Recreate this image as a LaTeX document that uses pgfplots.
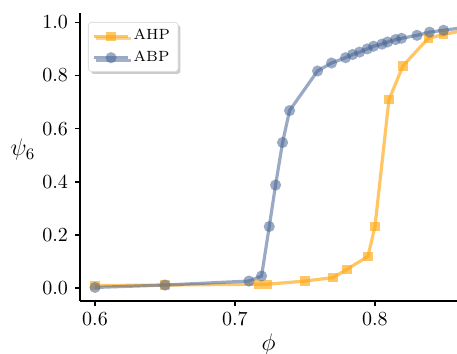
\documentclass[border=0pt]{standalone}
\usepackage{pgfplots}
\pgfplotsset{compat=1.18}
\usetikzlibrary{shadows}
\definecolor{cora}{RGB}{255,168,20}
\definecolor{cblu}{RGB}{72,100,148}
\begin{document}
\begin{tikzpicture}
\path[use as bounding box] (-40pt,-26.5pt) rectangle (188.5pt,150.5pt);
\begin{axis}[
  at={(0pt,0pt)}, anchor=south west,
  scale only axis, width=188.5pt, height=144pt,
  xmin=0.5893, xmax=0.8586, ymin=-0.048, ymax=1.035,
  axis x line*=bottom, axis y line*=left,
  axis line style={line width=1.2pt, -},
  xtick={0.6,0.7,0.8}, ytick={0,0.2,0.4,0.6,0.8,1.0},
  xticklabels={$0.6$,$0.7$,$0.8$},
  yticklabels={$0.0$,$0.2$,$0.4$,$0.6$,$0.8$,$1.0$},
  tick align=outside, major tick length=2.5pt,
  tick style={line width=0.8pt, black},
  xlabel={\large $\phi$}, ylabel={\large $\psi_6$},
  xlabel style={at={(rel axis cs:0.5,0)}, anchor=center, yshift=-22pt},
  ylabel style={rotate=-90, at={(rel axis cs:0,0)}, anchor=center, xshift=-28.5pt, yshift=75.5pt},
  clip=true,
  legend style={at={(0,1)}, anchor=north west, xshift=4pt, yshift=-4.5pt,
    font=\fontsize{7.4}{8.8}\selectfont, draw=black!12, fill=white,
    rounded corners=1.5pt, drop shadow={shadow xshift=1.2pt, shadow yshift=-1.2pt, fill=black!40},
    inner xsep=2pt, inner ysep=1.5pt, row sep=0pt},
  legend cell align=left,
  legend image code/.code={
    \draw[#1, mark repeat=2, mark phase=2] plot coordinates {(0cm,0cm) (0.3cm,0cm) (0.6cm,0cm)};
  },
]
\addplot[color=cora, opacity=0.65, line width=1.6pt, mark=square*, mark size=2.3pt, mark options={solid, draw opacity=0}] coordinates {
(0.6,0.010) (0.65,0.012) (0.717,0.015) (0.723,0.015) (0.75,0.027) (0.77,0.040)
(0.78,0.071) (0.795,0.120) (0.80,0.232) (0.81,0.709) (0.82,0.836)
(0.838,0.940) (0.849,0.954) (0.86,0.966)
};
\addlegendentry{AHP}
\addplot[color=cblu, opacity=0.55, line width=1.6pt, mark=*, mark size=2.8pt, mark options={solid, draw opacity=0}] coordinates {
(0.6,0.003) (0.65,0.012) (0.71,0.027) (0.719,0.046) (0.7245,0.232) (0.729,0.388)
(0.734,0.548) (0.739,0.668) (0.759,0.817) (0.769,0.847) (0.779,0.867) (0.784,0.879)
(0.789,0.888) (0.7945,0.900) (0.799,0.910) (0.805,0.918) (0.809,0.926) (0.8147,0.935)
(0.819,0.940) (0.830,0.951) (0.839,0.963) (0.849,0.970) (0.86,0.978)
};
\addlegendentry{ABP}
\end{axis}
\end{tikzpicture}
\end{document}
